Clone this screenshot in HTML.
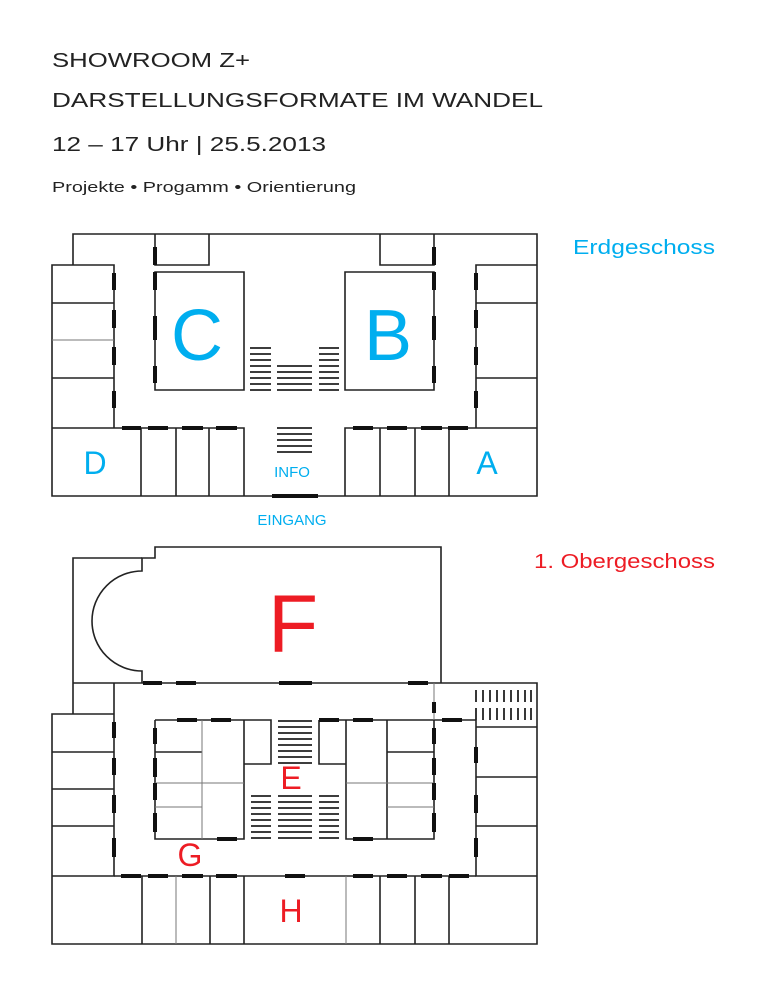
<!DOCTYPE html>
<html><head><meta charset="utf-8"><style>
html,body{margin:0;padding:0;background:#fff;width:768px;height:994px;overflow:hidden}
svg{display:block}
text{font-family:"Liberation Sans",Arial,sans-serif}
</style></head><body>
<svg width="768" height="994" viewBox="0 0 768 994" xmlns="http://www.w3.org/2000/svg">
<g fill="#222">
<text x="52" y="67" font-size="20" textLength="198" lengthAdjust="spacingAndGlyphs">SHOWROOM Z+</text>
<text x="52" y="107" font-size="20" textLength="491" lengthAdjust="spacingAndGlyphs">DARSTELLUNGSFORMATE IM WANDEL</text>
<text x="52" y="151" font-size="20" textLength="274" lengthAdjust="spacingAndGlyphs">12 – 17 Uhr | 25.5.2013</text>
<text x="52" y="192" font-size="15" textLength="304" lengthAdjust="spacingAndGlyphs">Projekte • Progamm • Orientierung</text>
</g>
<text x="715" y="254" font-size="20" fill="#00aeef" text-anchor="end" textLength="142" lengthAdjust="spacingAndGlyphs">Erdgeschoss</text>
<text x="715" y="568" font-size="20" fill="#ed1c24" text-anchor="end" textLength="181" lengthAdjust="spacingAndGlyphs">1. Obergeschoss</text>

<!-- Ground floor -->
<g fill="none" stroke="#222" stroke-width="1.6">
<path d="M73 265 V234 H537 V496 H52 V265 H114 V428"/>
<path d="M476 428 V265 H537"/>
<path d="M52 303 H114 M52 378 H114 M476 303 H537 M476 378 H537"/>
<path d="M155 234 V265 H209 V234 M434 234 V265 H380 V234"/>
<path d="M155 272 H244 V390 H155 Z M345 272 H434 V390 H345 Z"/>
<path d="M52 428 H244 V496 M141 428 V496 M176 428 V496 M209 428 V496"/>
<path d="M345 496 V428 H537 M380 428 V496 M415 428 V496 M449 428 V496"/>
</g>
<path d="M52 340 H114" stroke="#777" stroke-width="1"/>
<g stroke="#111" stroke-width="4">
<path d="M114 273V290M114 310V328M114 347V365M114 391V408"/>
<path d="M476 273V290M476 310V328M476 347V365M476 391V408"/>
<path d="M155 247V265M155 272V290M155 316V340M155 366V383"/>
<path d="M434 247V265M434 272V290M434 316V340M434 366V383"/>
<path d="M122 428H141M148 428H168M182 428H203M216 428H237M353 428H373M387 428H407M421 428H442M448 428H468"/>
<path d="M272 496H318"/>
</g>
<g stroke="#222" stroke-width="1.8">
<path d="M250 348H271M250 354H271M250 360H271M250 366H271M250 372H271M250 378H271M250 384H271M250 390H271"/>
<path d="M319 348H339M319 354H339M319 360H339M319 366H339M319 372H339M319 378H339M319 384H339M319 390H339"/>
<path d="M277 366H312M277 372H312M277 378H312M277 384H312M277 390H312"/>
<path d="M277 428H312M277 434H312M277 440H312M277 446H312M277 452H312"/>
</g>
<g fill="#00aeef">
<text x="197" y="360" font-size="72" text-anchor="middle">C</text>
<text x="388" y="360" font-size="72" text-anchor="middle">B</text>
<text x="95" y="474" font-size="32" text-anchor="middle">D</text>
<text x="487" y="474" font-size="32" text-anchor="middle">A</text>
<text x="292" y="477" font-size="15" text-anchor="middle">INFO</text>
<text x="292" y="525" font-size="15" text-anchor="middle">EINGANG</text>
</g>

<!-- Upper floor -->
<g fill="none" stroke="#222" stroke-width="1.6">
<path d="M142 683 V671 A50 50 0 0 1 142 571 V558 H155 V547 H441 V683"/>
<path d="M73 714 V558 H142"/>
<path d="M73 683 H537 V944 H52 V714 H114"/>
<path d="M114 683 V876 H52 M52 752 H114 M52 789 H114 M52 826 H114"/>
<path d="M476 720 V876 H537 M476 727 H537 M476 777 H537 M476 826 H537"/>
<path d="M434 720 H476"/>
<path d="M114 876 H476 M142 876 V944 M210 876 V944 M244 876 V944 M380 876 V944 M415 876 V944 M449 876 V944"/>
<path d="M155 720 H271 V764 H244 M244 720 V839 H155 V720 M155 752 H202"/>
<path d="M319 720 H434 V839 H346 V720 M319 720 V764 H346 M387 720 V839 M387 752 H434"/>
</g>
<g stroke="#777" stroke-width="1">
<path d="M176 876V944M346 876V944M202 720V839M155 783H244M155 807H202M346 783H434M387 807H434M434 683V720"/>
</g>
<g stroke="#111" stroke-width="4">
<path d="M143 683H162M176 683H196M279 683H312M408 683H428"/>
<path d="M434 702V713M434 728V744M434 758V775M434 783V800M434 813V832"/>
<path d="M114 722V738M114 758V775M114 795V813M114 838V857"/>
<path d="M155 728V744M155 758V777M155 783V800M155 813V832"/>
<path d="M476 747V763M476 795V813M476 838V857"/>
<path d="M177 720H197M211 720H231M319 720H339M353 720H373M442 720H462"/>
<path d="M217 839H237M353 839H373"/>
<path d="M121 876H141M148 876H168M182 876H203M216 876H237M285 876H305M353 876H373M387 876H407M421 876H442M449 876H469"/>
</g>
<g stroke="#222" stroke-width="1.8">
<path d="M278 721H312M278 727H312M278 733H312M278 739H312M278 745H312M278 751H312M278 757H312M278 763H312"/>
<path d="M251 796H271M251 802H271M251 808H271M251 814H271M251 820H271M251 826H271M251 832H271M251 838H271"/>
<path d="M278 796H312M278 802H312M278 808H312M278 814H312M278 820H312M278 826H312M278 832H312M278 838H312"/>
<path d="M319 796H339M319 802H339M319 808H339M319 814H339M319 820H339M319 826H339M319 832H339M319 838H339"/>
<path d="M476 690V702M483 690V702M490 690V702M497 690V702M504 690V702M511 690V702M518 690V702M525 690V702M531 690V702"/>
<path d="M476 708V720M483 708V720M490 708V720M497 708V720M504 708V720M511 708V720M518 708V720M525 708V720M531 708V720"/>
</g>
<g fill="#ed1c24">
<text x="293" y="652" font-size="82" text-anchor="middle">F</text>
<text x="291" y="789" font-size="32" text-anchor="middle">E</text>
<text x="190" y="866" font-size="32" text-anchor="middle">G</text>
<text x="291" y="922" font-size="32" text-anchor="middle">H</text>
</g>
</svg>
</body></html>
